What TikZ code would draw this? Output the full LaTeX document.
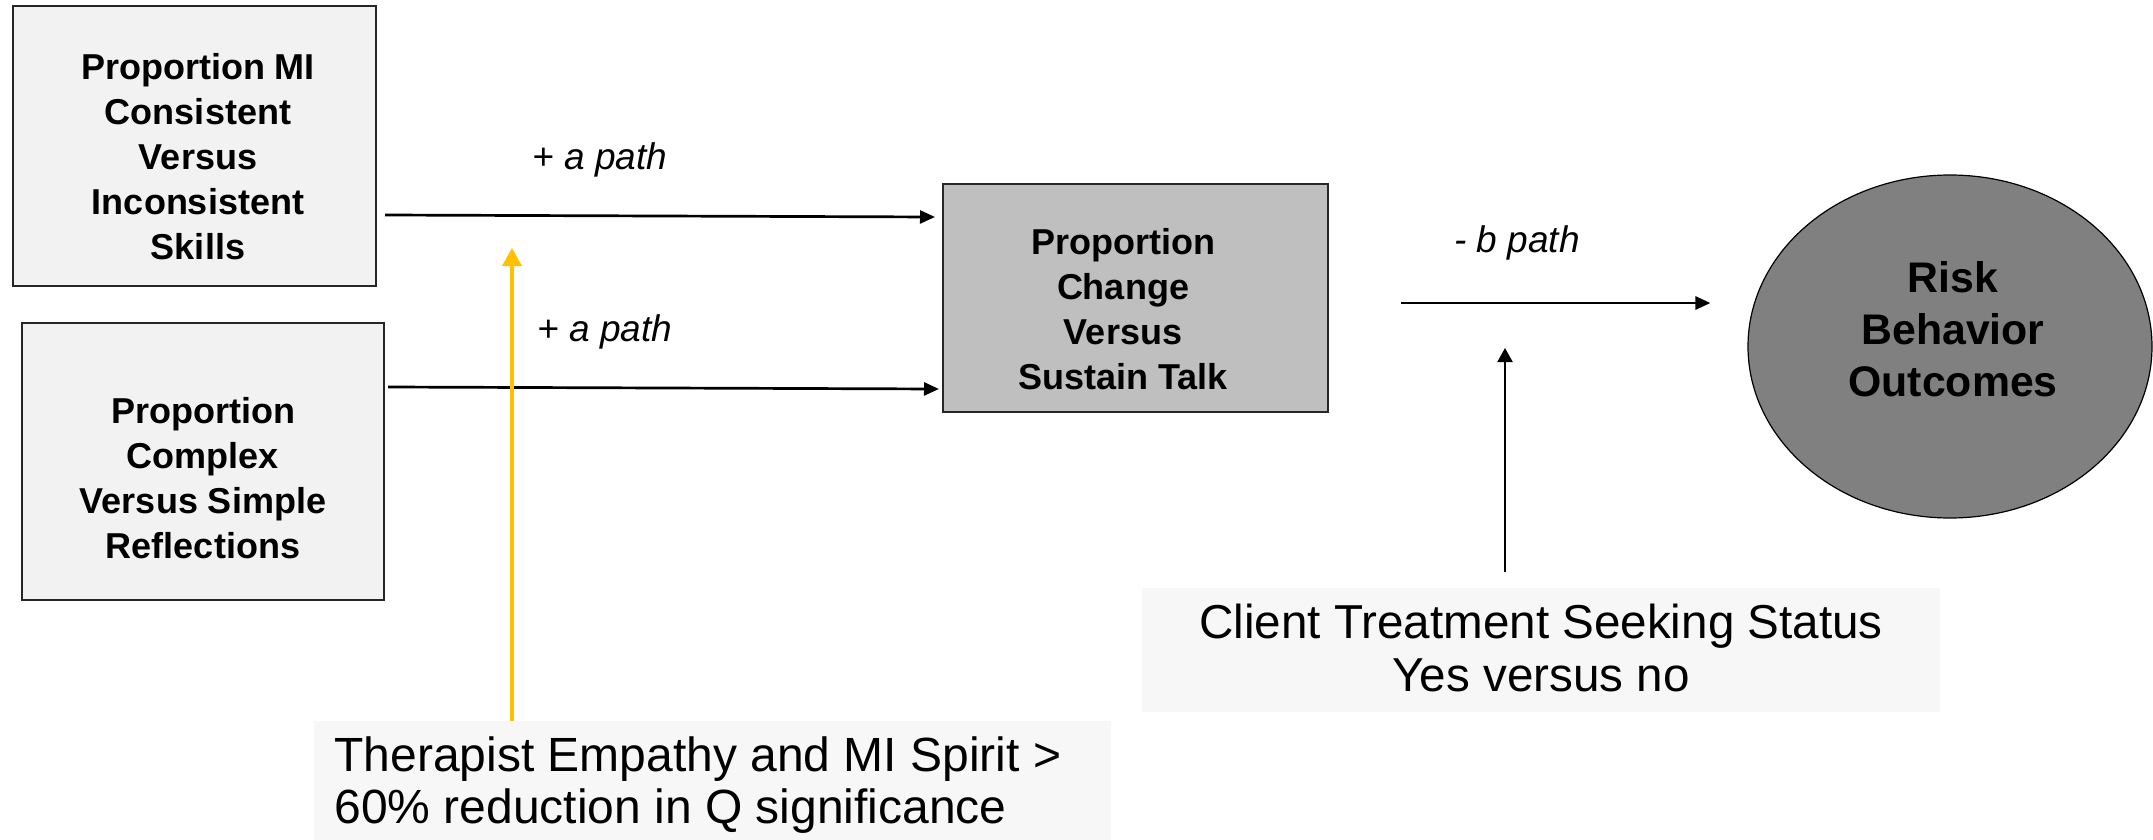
\documentclass[tikz,border=0pt]{standalone}
\usepackage{fontspec}
\setmainfont{Liberation Sans}
\usetikzlibrary{arrows.meta,shapes.geometric,calc}
\definecolor{boxfill}{HTML}{F2F2F2}
\definecolor{midfill}{HTML}{BFBFBF}
\definecolor{ellfill}{HTML}{808080}
\definecolor{notefill}{HTML}{F7F7F7}
\definecolor{gold}{HTML}{FFC000}
\begin{document}
\begin{tikzpicture}[x=0.5pt,y=-0.5pt,
  varbox/.style={draw=black!85, line width=1pt, fill=boxfill, inner sep=0pt},
  boldtxt/.style={font=\fontsize{18pt}{22.5pt}\selectfont\bfseries, align=center, inner sep=0pt},
  pathlbl/.style={font=\fontsize{18.5pt}{22pt}\selectfont\itshape, inner sep=0pt},
  arr/.style={line width=1.35pt, -{Triangle[length=7.5pt,width=6.5pt]}},
  thinarr/.style={line width=1pt, -{Triangle[length=7pt,width=7.5pt]}},
  yarr/.style={draw=gold, line width=1.75pt, -{Triangle[length=9pt,width=9.5pt]}},
  notebox/.style={fill=notefill, inner sep=0pt}
]
\path[use as bounding box] (0,0) rectangle (2153,840);

% boxes
\node[varbox, minimum width=181.5pt, minimum height=140pt] (b1) at (194.5,146) {};
\node[varbox, minimum width=181pt, minimum height=138.5pt] (b2) at (203,461.5) {};
\node[varbox, fill=midfill, minimum width=192.5pt, minimum height=114pt] (c) at (1135,297.5) {};
\node[ellipse, draw=black, line width=0.6pt, fill=ellfill, inner sep=0pt, minimum width=202pt, minimum height=171.5pt] (e) at (1950,346.5) {};

% box texts
\node[boldtxt] (b1t) at (198,157) {Proportion MI\\Consistent\\Versus\\Inconsistent\\Skills};
\node[boldtxt] (b2t) at (203,478) {Proportion\\Complex\\Versus Simple\\Reflections};
\node[boldtxt] (ct) at (1123,309.5) {Proportion\\Change\\Versus\\Sustain Talk};
\node[font=\fontsize{21.4pt}{26pt}\selectfont\bfseries, align=center, inner sep=0pt] (et) at (1953,329.5) {Risk\\Behavior\\Outcomes};

% moderator boxes
\node[notebox, minimum width=399pt, minimum height=62pt] (cl) at (1541,650) {};
\node[align=center, inner sep=0pt, font=\fontsize{23.8pt}{26.5pt}\selectfont] (clt) at (1541,648)
      {Client Treatment Seeking Status\\Yes versus no};
\node[notebox, minimum width=398.5pt, minimum height=59.5pt] (th) at (712.5,780.5) {};
\node[anchor=west, align=left, inner sep=0pt, font=\fontsize{24pt}{26pt}\selectfont] (tht) at (334,785)
      {Therapist Empathy and MI Spirit >\\60\% reduction in Q significance};

% path labels
\node[pathlbl] (l1) at (600,160) {+ a path};
\node[pathlbl] (l2) at (605,332) {+ a path};
\node[pathlbl] (l3) at (1517,243) {- b path};

% connectors
\draw[arr] ([shift={(8,69)}]b1.east) -- ([shift={(-6.5,-80.5)}]c.west);
\draw[arr] ([shift={(3,-74.5)}]b2.east) -- ([shift={(-2.5,91.5)}]c.west);
\draw[arr] ([shift={(72.5,5.5)}]c.east) -- ([shift={(-37,-43.5)}]e.west);

\coordinate (ytip) at (512,248);
\draw[yarr] ([shift={(-200.5,0)}]th.north) -- (ytip);

\coordinate (ttip) at (1505,348);
\draw[thinarr] ([shift={(-36,-16)}]cl.north) -- (ttip);
\end{tikzpicture}
\end{document}
